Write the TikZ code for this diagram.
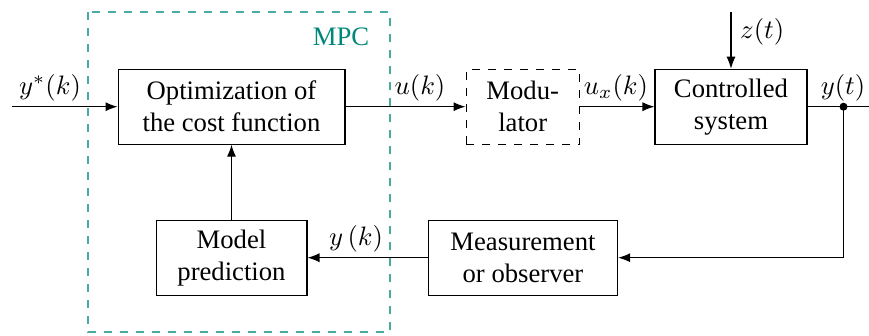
\documentclass[tikz,border=0pt]{standalone}
\usepackage{fontspec}
\setmainfont{Liberation Serif}
\usetikzlibrary{arrows.meta}
\definecolor{mpcteal}{RGB}{0,135,120}
\begin{document}
\begin{tikzpicture}[x=0.375pt,y=-0.375pt,
  blk/.style={draw,align=center,inner sep=0pt,minimum height=28.1pt},
  arr/.style={-{Latex[length=4.5pt,width=3.4pt]}},
  lbl/.style={inner sep=1pt,anchor=south}]
\useasboundingbox (0,0) rectangle (869,336);
% MPC frame
\draw[mpcteal!70,dashed,line width=0.45pt] (88,12) rectangle (390,332);
\node[text=mpcteal,font=\fontsize{10}{12}\selectfont] (mpc) at (341,37) {MPC};
% blocks
\node[blk,minimum width=85.1pt] (opt) at (231.5,106.7) {Optimization of\\the cost function};
\node[blk,minimum width=56.6pt] (model) at (231.5,257.7) {Model\\prediction};
\node[blk,dashed,minimum width=42.5pt] (mod) at (522.7,106.7) {Modu-\\lator};
\node[blk,minimum width=57pt] (sys) at (731,106.7) {Controlled\\system};
\node[blk,minimum width=71pt] (meas) at (523,257.7) {Measurement\\or observer};
% coordinates
\coordinate (in) at (12,106.7);
\coordinate (zin) at (731,12);
\coordinate (out) at (869,106.7);
\coordinate (tap) at (843.5,106.7);
\coordinate (corner) at (843.5,257.7);
% connectors
\draw[arr] (in) -- (opt.west);
\draw[arr] (opt.east) -- (mod.west);
\draw[arr] (mod.east) -- (sys.west);
\draw[arr] (zin) -- (sys.north);
\draw (sys.east) -- (out);
\fill (tap) circle (4);
\draw[arr] (tap) -- (corner) -- (meas.east);
\draw[arr] (meas.west) -- (model.east);
\draw[arr] (model.north) -- (opt.south);
% labels
\node[lbl] (lys) at (50,104) {$y^{*}(k)$};
\node[lbl] (lu) at (420,104) {$u(k)$};
\node[lbl] (lux) at (616,104) {$u_x(k)$};
\node[lbl] (lyt) at (843,104) {$y(t)$};
\node[lbl] (lyk) at (356,255) {$y\left(k\right)$};
\node[inner sep=1pt,anchor=west] (lz) at (737,32) {$z(t)$};
\end{tikzpicture}
\end{document}
